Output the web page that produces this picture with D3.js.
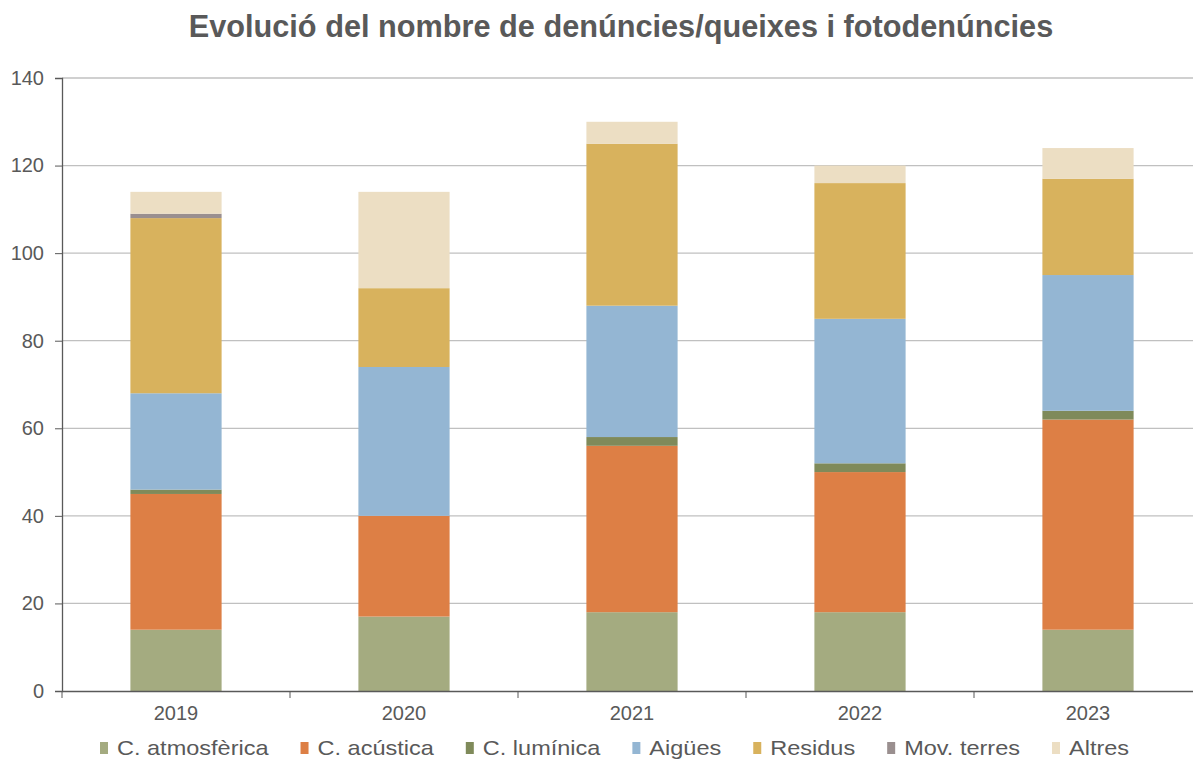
<!DOCTYPE html>
<html>
<head>
<meta charset="utf-8">
<script src="https://cdn.jsdelivr.net/npm/d3@7"></script>
<style>
  body { margin: 0; background: #fff; font-family: "Liberation Sans", Arial, sans-serif; }
</style>
</head>
<body>
<div id="chart"></div>
<script>
const years = ["2019", "2020", "2021", "2022", "2023"];
const seriesNames = ["C. atmosfèrica", "C. acústica", "C. lumínica", "Aigües", "Residus", "Mov. terres", "Altres"];
const atmosferica = [14, 17, 18, 18, 14];
const acustica = [31, 23, 38, 32, 48];
const luminica = [1, 0, 2, 2, 2];
const aigues = [22, 34, 30, 33, 31];
const residus = [40, 18, 37, 31, 22];
const movTerres = [1, 0, 0, 0, 0];
const altres = [5, 22, 5, 4, 7];
const yTicks = [0, 20, 40, 60, 80, 100, 120, 140];
const colors = ["#a4ab80", "#dd7f45", "#7f8a5a", "#94b6d3", "#d8b25d", "#9a8f8f", "#ecdec3"];

const allSeries = [atmosferica, acustica, luminica, aigues, residus, movTerres, altres];
const table = years.map((y, i) => {
  const row = { year: y };
  seriesNames.forEach((s, j) => { row[s] = allSeries[j][i]; });
  return row;
});

const W = 1193, H = 760;
const margin = { top: 78, right: -9, bottom: 69, left: 62 };
const width = W - margin.left - margin.right;
const height = H - margin.top - margin.bottom;

const svg = d3.select("#chart")
  .append("svg")
  .attr("width", W)
  .attr("height", H);

const g = svg.append("g")
  .attr("transform", `translate(${margin.left}, ${margin.top})`);

const x = d3.scaleBand().domain(years).range([0, width]).paddingInner(0.6).paddingOuter(0.3);
const y = d3.scaleLinear().domain([0, 140]).range([height, 0]);

// gridlines
g.append("g")
  .selectAll("line")
  .data(yTicks.slice(1))
  .join("line")
  .attr("x1", 0)
  .attr("x2", width)
  .attr("y1", d => y(d))
  .attr("y2", d => y(d))
  .attr("stroke", "#c0c0c0")
  .attr("stroke-width", 1.3);

// stacked bars
const stack = d3.stack().keys(seriesNames)(table);
g.append("g")
  .selectAll("g")
  .data(stack)
  .join("g")
  .attr("fill", (d, i) => colors[i])
  .selectAll("rect")
  .data(d => d)
  .join("rect")
  .attr("x", d => x(d.data.year))
  .attr("y", d => y(d[1]))
  .attr("width", x.bandwidth())
  .attr("height", d => y(d[0]) - y(d[1]));

// y axis
const yAxis = g.append("g")
  .call(d3.axisLeft(y).tickValues(yTicks).tickSize(7).tickPadding(11));
yAxis.select(".domain").attr("stroke", "#595959").attr("stroke-width", 1.3);
yAxis.selectAll(".tick line").attr("stroke", "#595959");
yAxis.selectAll("text")
  .attr("fill", "#595959")
  .style("font-size", "20px")
  .style("font-family", "Liberation Sans, Arial, sans-serif");

// x axis
const step = x.step();
const xAxis = g.append("g")
  .attr("transform", `translate(0, ${height})`)
  .call(d3.axisBottom(x).tickSize(0).tickPadding(15));
xAxis.select(".domain").attr("stroke", "#595959").attr("stroke-width", 1.3);
xAxis.selectAll("text")
  .attr("fill", "#595959")
  .style("font-size", "20px")
  .style("font-family", "Liberation Sans, Arial, sans-serif");
// category boundary ticks
xAxis.append("g")
  .selectAll("line")
  .data(years)
  .join("line")
  .attr("x1", d => x(d) - step * 0.3)
  .attr("x2", d => x(d) - step * 0.3)
  .attr("y1", 0)
  .attr("y2", 7)
  .attr("stroke", "#595959");

// title
svg.append("text")
  .attr("x", 621)
  .attr("y", 37)
  .attr("text-anchor", "middle")
  .attr("fill", "#595959")
  .style("font-size", "30.7px")
  .style("font-weight", "bold")
  .text("Evolució del nombre de denúncies/queixes i fotodenúncies");

// legend
const legend = svg.append("g").attr("transform", "translate(100, 755)");
const sx = 1.12;
let lx = 0;
seriesNames.forEach((s, i) => {
  const item = legend.append("g").attr("transform", `translate(${lx}, 0)`);
  item.append("rect")
    .attr("x", 0)
    .attr("y", -13)
    .attr("width", 8)
    .attr("height", 12)
    .attr("fill", colors[i]);
  const t = item.append("text")
    .attr("transform", `translate(17, 0) scale(${sx}, 1)`)
    .attr("fill", "#595959")
    .style("font-size", "21px")
    .text(s);
  lx += 17 + t.node().getComputedTextLength() * sx + 32;
});
</script>
</body>
</html>
